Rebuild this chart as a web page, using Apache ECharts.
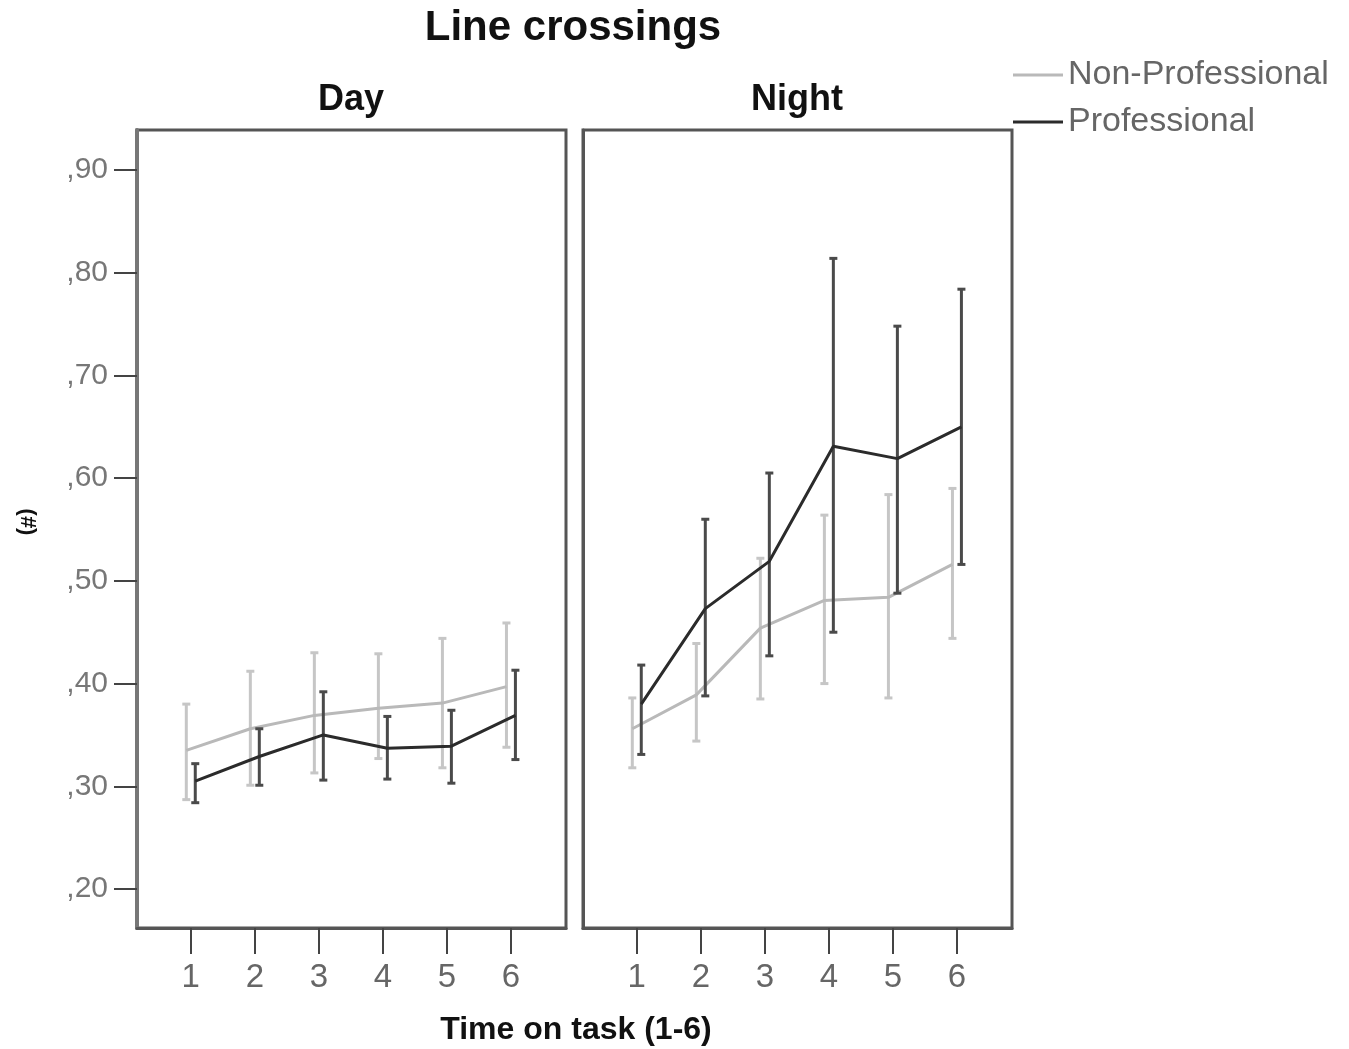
<!DOCTYPE html>
<html>
<head>
<meta charset="utf-8">
<script src="https://cdn.jsdelivr.net/npm/echarts@6/dist/echarts.min.js"></script>
<style>
html,body{margin:0;padding:0;background:#fff;}
#chart{width:1349px;height:1049px;}
</style>
</head>
<body>
<div id="chart"></div>
<script>
// ---- data ----
const timeTicks = [1, 2, 3, 4, 5, 6];
const yTicks = [0.2, 0.3, 0.4, 0.5, 0.6, 0.7, 0.8, 0.9];
const seriesNames = ['Non-Professional', 'Professional'];

const dayNonProf     = [0.335, 0.356, 0.369, 0.376, 0.381, 0.397];
const dayNonProfLow  = [0.287, 0.301, 0.313, 0.327, 0.318, 0.338];
const dayNonProfHigh = [0.380, 0.412, 0.430, 0.429, 0.444, 0.459];
const dayProf        = [0.305, 0.329, 0.350, 0.337, 0.339, 0.369];
const dayProfLow     = [0.284, 0.301, 0.306, 0.307, 0.303, 0.326];
const dayProfHigh    = [0.322, 0.356, 0.392, 0.368, 0.374, 0.413];

const nightNonProf     = [0.356, 0.389, 0.454, 0.481, 0.484, 0.516];
const nightNonProfLow  = [0.318, 0.344, 0.385, 0.400, 0.386, 0.444];
const nightNonProfHigh = [0.386, 0.439, 0.522, 0.564, 0.584, 0.590];
const nightProf        = [0.380, 0.473, 0.519, 0.631, 0.619, 0.650];
const nightProfLow     = [0.331, 0.388, 0.427, 0.450, 0.488, 0.516];
const nightProfHigh    = [0.418, 0.560, 0.605, 0.814, 0.748, 0.784];

// ---- styling ----
const FONT = '"Liberation Sans", Arial, sans-serif';
const grayLine = '#b9b9b9', grayBar = '#c6c6c6';
const darkLine = '#2b2b2b', darkBar = '#4a4a4a';
const dodge = 0.07;

function pts(vals, off) { return timeTicks.map((t, i) => [t + off, vals[i]]); }
function bars(low, high, off) { return timeTicks.map((t, i) => [t + off, low[i], high[i]]); }

function errRender(color) {
  return function (params, api) {
    const x = api.value(0);
    const lo = api.coord([x, api.value(1)]);
    const hi = api.coord([x, api.value(2)]);
    const cw = 4;
    const st = { stroke: color, lineWidth: 3 };
    return {
      type: 'group',
      children: [
        { type: 'line', shape: { x1: lo[0], y1: lo[1], x2: hi[0], y2: hi[1] }, style: st },
        { type: 'line', shape: { x1: hi[0] - cw, y1: hi[1], x2: hi[0] + cw, y2: hi[1] }, style: st },
        { type: 'line', shape: { x1: lo[0] - cw, y1: lo[1], x2: lo[0] + cw, y2: lo[1] }, style: st }
      ]
    };
  };
}

function xAxisDef(idx) {
  return {
    type: 'value', gridIndex: idx, min: 0.16, max: 6.86,
    axisLine: { show: true, lineStyle: { color: '#555', width: 3 } },
    axisTick: { show: true, customValues: timeTicks, length: 26, lineStyle: { color: '#444', width: 2 } },
    axisLabel: { customValues: timeTicks, color: '#666', fontSize: 33, fontFamily: FONT, margin: 33 },
    splitLine: { show: false }
  };
}
function yAxisDef(idx, showLabels) {
  return {
    type: 'value', gridIndex: idx, min: 0.162, max: 0.939,
    axisLine: { show: true, lineStyle: { color: showLabels ? '#777' : '#555', width: showLabels ? 4 : 3 } },
    axisTick: { show: showLabels, customValues: yTicks, length: 23, lineStyle: { color: '#444', width: 2 } },
    axisLabel: { show: showLabels, customValues: yTicks, color: '#777', fontSize: 30, fontFamily: FONT, margin: 29,
      formatter: v => ',' + Math.round(v * 100) },
    splitLine: { show: false }
  };
}

function panelSeries(idx, np, npLo, npHi, p, pLo, pHi) {
  return [
    { type: 'custom', name: seriesNames[0], xAxisIndex: idx, yAxisIndex: idx, renderItem: errRender(grayBar),
      data: bars(npLo, npHi, -dodge), z: 2, silent: true },
    { type: 'line', name: seriesNames[0], xAxisIndex: idx, yAxisIndex: idx, data: pts(np, -dodge),
      showSymbol: false, lineStyle: { color: grayLine, width: 3 }, itemStyle: { color: grayLine }, z: 3 },
    { type: 'custom', name: seriesNames[1], xAxisIndex: idx, yAxisIndex: idx, renderItem: errRender(darkBar),
      data: bars(pLo, pHi, dodge), z: 4, silent: true },
    { type: 'line', name: seriesNames[1], xAxisIndex: idx, yAxisIndex: idx, data: pts(p, dodge),
      showSymbol: false, lineStyle: { color: darkLine, width: 3 }, itemStyle: { color: darkLine }, z: 5 }
  ];
}

const chart = echarts.init(document.getElementById('chart'), null, { renderer: 'canvas' });
chart.setOption({
  backgroundColor: '#fff',
  animation: false,
  grid: [
    { left: 137, top: 130, width: 429, height: 798, show: true, borderColor: '#555', borderWidth: 3 },
    { left: 583, top: 130, width: 429, height: 798, show: true, borderColor: '#555', borderWidth: 3 }
  ],
  xAxis: [xAxisDef(0), xAxisDef(1)],
  yAxis: [yAxisDef(0, true), yAxisDef(1, false)],
  legend: {
    orient: 'vertical', left: 1008, top: 53, icon: 'rect', itemWidth: 50, itemHeight: 3, itemGap: 13,
    data: [
      { name: seriesNames[0], itemStyle: { color: grayLine } },
      { name: seriesNames[1], itemStyle: { color: darkLine } }
    ],
    textStyle: { color: '#666', fontSize: 34, fontFamily: FONT, lineHeight: 34 },
    selectedMode: false
  },
  graphic: [
    { type: 'text', x: 573, y: 28, style: { text: 'Line crossings', font: 'bold 42px ' + FONT, fill: '#111', textAlign: 'center', textVerticalAlign: 'middle' } },
    { type: 'text', x: 351, y: 100, style: { text: 'Day', font: 'bold 36px ' + FONT, fill: '#111', textAlign: 'center', textVerticalAlign: 'middle' } },
    { type: 'text', x: 797, y: 100, style: { text: 'Night', font: 'bold 36px ' + FONT, fill: '#111', textAlign: 'center', textVerticalAlign: 'middle' } },
    { type: 'text', x: 576, y: 1030, style: { text: 'Time on task (1-6)', font: 'bold 32px ' + FONT, fill: '#111', textAlign: 'center', textVerticalAlign: 'middle' } },
    { type: 'text', x: 27, y: 522, rotation: -Math.PI / 2, style: { text: '(#)', font: 'bold 22px ' + FONT, fill: '#111', textAlign: 'center', textVerticalAlign: 'middle' } }
  ],
  series: [].concat(
    panelSeries(0, dayNonProf, dayNonProfLow, dayNonProfHigh, dayProf, dayProfLow, dayProfHigh),
    panelSeries(1, nightNonProf, nightNonProfLow, nightNonProfHigh, nightProf, nightProfLow, nightProfHigh)
  )
});
</script>
</body>
</html>
